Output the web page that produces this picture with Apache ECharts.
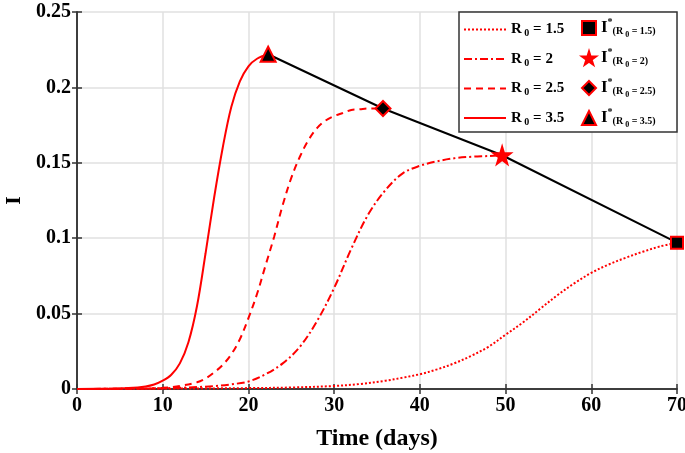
<!DOCTYPE html>
<html>
<head>
<meta charset="utf-8">
<script src="https://cdn.jsdelivr.net/npm/echarts@6/dist/echarts.min.js"></script>
<style>
  html, body { margin: 0; padding: 0; background: #fff; }
  #chart { width: 685px; height: 453px; }
</style>
</head>
<body>
<div id="chart"></div>
<script>
// values
const xTicks = [0, 10, 20, 30, 40, 50, 60, 70];
const yTicks = [0, 0.05, 0.1, 0.15, 0.2, 0.25];

const t15 = [0, 10, 20, 25, 30, 33, 36, 38, 40, 42, 44, 46, 48, 50, 52, 54, 56, 58, 60, 62, 64, 66, 68, 70];
const i15 = [0, 0.0002, 0.0006, 0.001, 0.002, 0.0033, 0.0055, 0.0075, 0.0098, 0.013, 0.017, 0.022, 0.028, 0.036, 0.044, 0.053, 0.062, 0.07, 0.077, 0.0825, 0.087, 0.091, 0.0945, 0.097];

const t20 = [0, 10, 12, 14, 16, 18, 20, 22, 24, 26, 28, 30, 32, 34, 36, 38, 40, 42, 44, 46, 48, 49.6];
const i20 = [0, 0.0005, 0.0008, 0.0013, 0.0019, 0.0031, 0.005, 0.0098, 0.017, 0.028, 0.045, 0.067, 0.093, 0.116, 0.132, 0.143, 0.148, 0.151, 0.153, 0.154, 0.1545, 0.155];

const t25 = [0, 8, 10, 12, 14, 15, 16, 17, 18, 19, 20, 21, 22, 23, 24, 25, 26, 27, 28, 29, 30, 31, 32, 33, 34, 35.7];
const i25 = [0, 0.0003, 0.0008, 0.002, 0.0045, 0.007, 0.011, 0.016, 0.023, 0.033, 0.047, 0.063, 0.082, 0.101, 0.122, 0.14, 0.154, 0.165, 0.173, 0.178, 0.181, 0.183, 0.185, 0.1855, 0.186, 0.186];

const t35 = [0, 4, 6, 8, 9, 10, 11, 12, 13, 14, 15, 16, 17, 18, 19, 20, 21, 22.3];
const i35 = [0, 0.0002, 0.0006, 0.0017, 0.003, 0.0055, 0.0095, 0.017, 0.031, 0.055, 0.09, 0.127, 0.16, 0.187, 0.204, 0.214, 0.219, 0.222];

// peak points I*
const peakT = [70, 49.6, 35.7, 22.3];
const peakI = [0.097, 0.155, 0.186, 0.222];
const peakNames = ['I*(R0 = 1.5)', 'I*(R0 = 2)', 'I*(R0 = 2.5)', 'I*(R0 = 3.5)'];
const curveNames = ['R0 = 1.5', 'R0 = 2', 'R0 = 2.5', 'R0 = 3.5'];

const pairs = (xs, ys) => xs.map((x, i) => [x, ys[i]]);

const serif = 'Liberation Serif, Times New Roman, serif';
const red = '#ff0000';
const starPath = 'path://M50,0 L61,35 L98,35 L68,57 L79,91 L50,70 L21,91 L32,57 L2,35 L39,35 Z';

function curve(name, data, dash) {
  return {
    name: name,
    type: 'line',
    data: data,
    smooth: 0.35,
    symbol: 'none',
    z: 2,
    lineStyle: { color: red, width: 2, type: dash },
    itemStyle: { color: red },
  };
}

function marker(idx, symbol, size, fill) {
  return {
    name: peakNames[idx],
    type: 'scatter',
    data: [[peakT[idx], peakI[idx]]],
    symbol: symbol,
    symbolSize: size,
    z: 4,
    itemStyle: { color: fill, borderColor: red, borderWidth: 2, opacity: 1 },
  };
}

const richText = {
  b: { fontFamily: serif, fontWeight: 'bold', fontSize: 15, color: '#000', lineHeight: 22, verticalAlign: 'middle' },
  s: { fontFamily: serif, fontWeight: 'bold', fontSize: 10, color: '#000', lineHeight: 22, verticalAlign: 'bottom', padding: [0, 0, 2, 0] },
  i: { fontFamily: serif, fontWeight: 'bold', fontSize: 17, color: '#000', lineHeight: 22, verticalAlign: 'middle' },
  sup: { fontFamily: serif, fontWeight: 'bold', fontSize: 10, color: '#000', lineHeight: 22, verticalAlign: 'top' },
  sub: { fontFamily: serif, fontWeight: 'bold', fontSize: 10, color: '#000', lineHeight: 22, verticalAlign: 'bottom', padding: [0, 0, 3, 0] },
  ss: { fontFamily: serif, fontWeight: 'bold', fontSize: 8, color: '#000', lineHeight: 22, verticalAlign: 'bottom' },
};

function curveLabel(name) {
  const v = name.split('= ')[1];
  return '{b|R}{s| 0}{b| = ' + v + '}';
}
function peakLabel(name) {
  const v = name.split('= ')[1].replace(')', '');
  return '{i|I}{sup|*}{sub|(R}{ss| 0}{sub| = ' + v + ')}';
}

const axisFont = { fontFamily: serif, fontWeight: 'bold', fontSize: 20, color: '#000' };
const frame = { color: '#333', width: 1.5 };

const option = {
  animation: false,
  backgroundColor: '#fff',
  grid: { left: 77, right: 8, top: 12, bottom: 64, outerBoundsMode: 'none', containLabel: false },
  graphic: [{
    type: 'rect',
    z: 3,
    shape: { x: 459, y: 12, width: 218, height: 120 },
    style: { fill: '#fff', stroke: '#333', lineWidth: 1.5 },
  }],
  legend: [{
    data: curveNames,
    orient: 'vertical',
    left: 463,
    top: 22,
    padding: 0,
    itemWidth: 42,
    itemHeight: 14,
    itemGap: 11,
    z: 5,
    itemStyle: { opacity: 0 },
    formatter: curveLabel,
    textStyle: { rich: richText },
  }, {
    data: peakNames,
    orient: 'vertical',
    left: 581,
    top: 17,
    padding: 0,
    itemWidth: 14,
    itemHeight: 14,
    itemGap: 8,
    z: 5,
    formatter: peakLabel,
    textStyle: { rich: richText },
  }],
  xAxis: [{
    type: 'value',
    min: 0,
    max: 70,
    interval: 10,
    name: 'Time (days)',
    nameLocation: 'middle',
    nameGap: 38,
    nameTextStyle: { fontFamily: serif, fontWeight: 'bold', fontSize: 24, color: '#000' },
    axisLine: { show: true, onZero: false, lineStyle: frame },
    axisTick: { show: true, inside: true, length: 5, lineStyle: frame },
    axisLabel: Object.assign({ margin: 7 }, axisFont),
    splitLine: { show: true, lineStyle: { color: '#e0e0e0', width: 1.5 } },
  }, {
    type: 'value',
    position: 'top',
    min: 0,
    max: 70,
    interval: 10,
    axisLine: { show: true, lineStyle: frame },
    axisTick: { show: true, inside: true, length: 5, lineStyle: frame },
    axisLabel: { show: false },
    splitLine: { show: false },
  }],
  yAxis: [{
    type: 'value',
    min: 0,
    max: 0.25,
    interval: 0.05,
    name: 'I',
    nameLocation: 'middle',
    nameGap: 52,
    nameRotate: 90,
    nameTextStyle: { fontFamily: serif, fontWeight: 'bold', fontSize: 22, color: '#000' },
    axisLine: { show: true, onZero: false, lineStyle: frame },
    axisTick: { show: true, inside: true, length: 5, lineStyle: frame },
    axisLabel: Object.assign({ margin: 6 }, axisFont),
    splitLine: { show: true, lineStyle: { color: '#e0e0e0', width: 1.5 } },
  }, {
    type: 'value',
    position: 'right',
    min: 0,
    max: 0.25,
    interval: 0.05,
    axisLine: { show: true, lineStyle: frame },
    axisTick: { show: true, inside: true, length: 5, lineStyle: frame },
    axisLabel: { show: false },
    splitLine: { show: false },
  }],
  series: [
    curve(curveNames[0], pairs(t15, i15), [2, 2]),
    curve(curveNames[1], pairs(t20, i20), [8, 3, 2, 3]),
    curve(curveNames[2], pairs(t25, i25), [7, 5]),
    curve(curveNames[3], pairs(t35, i35), 'solid'),
    {
      name: 'peak line',
      type: 'line',
      data: pairs(peakT, peakI),
      symbol: 'none',
      z: 3,
      lineStyle: { color: '#000', width: 2 },
    },
    marker(0, 'rect', 12, '#000'),
    marker(1, starPath, 17, red),
    marker(2, 'diamond', 15, '#000'),
    marker(3, 'triangle', 15, '#000'),
  ],
};

const chart = echarts.init(document.getElementById('chart'));
chart.setOption(option);
</script>
</body>
</html>
